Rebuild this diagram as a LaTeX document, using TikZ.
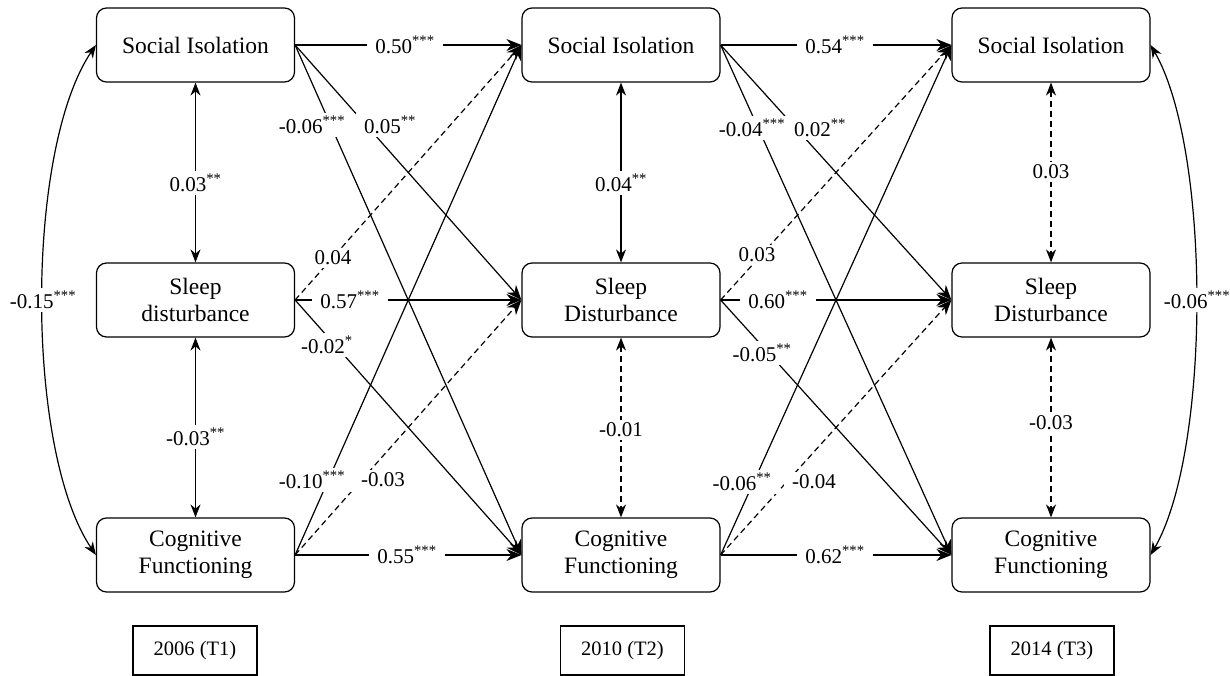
\documentclass[tikz,border=0pt]{standalone}
\usepackage{fontspec}
\setmainfont{Liberation Serif}
\usetikzlibrary{arrows.meta}
\begin{document}
\begin{tikzpicture}[x=1pt,y=-1pt,
  var/.style={draw, rounded corners=10pt, minimum width=198pt, minimum height=74pt, align=center, font=\fontsize{23.5}{27}\selectfont, line width=1.2pt, inner sep=0pt},
  yr/.style={draw, minimum width=124pt, minimum height=49pt, font=\fontsize{20.5}{24}\selectfont, line width=1.2pt},
  lab/.style={fill=white, font=\fontsize{21}{24}\selectfont, inner xsep=8pt, inner ysep=3pt},
  arr/.style={line width=1.2pt, -{Stealth[length=15pt,width=12pt]}},
  dbl/.style={line width=1.2pt, {Stealth[length=13pt,width=10pt]}-{Stealth[length=13pt,width=10pt]}},
  ns/.style={dash pattern=on 6pt off 4pt}
]
\useasboundingbox (0,0) rectangle (1230,676);
% variables
\node[var] (SI1) at (195.5,45) {Social Isolation};
\node[var] (SL1) at (195.5,300) {Sleep\\disturbance};
\node[var] (CF1) at (195.5,555) {Cognitive\\Functioning};
\node[var] (SI2) at (621,45) {Social Isolation};
\node[var] (SL2) at (621,300) {Sleep\\Disturbance};
\node[var] (CF2) at (621,555) {Cognitive\\Functioning};
\node[var] (SI3) at (1051,45) {Social Isolation};
\node[var] (SL3) at (1051,300) {Sleep\\Disturbance};
\node[var] (CF3) at (1051,555) {Cognitive\\Functioning};
% years
\node[yr] (Y1) at (195,650.5) {2006 (T1)};
\node[yr] (Y2) at (622.5,650.5) {2010 (T2)};
\node[yr] (Y3) at (1052,650.5) {2014 (T3)};
% T1 -> T2
\draw[arr] (SI1.east) -- (SI2.west);
\draw[arr] (SI1.east) -- (SL2.west);
\draw[arr] (SI1.east) -- (CF2.west);
\draw[arr,ns] (SL1.east) -- (SI2.west);
\draw[arr] (SL1.east) -- (SL2.west);
\draw[arr] (SL1.east) -- (CF2.west);
\draw[arr] (CF1.east) -- (SI2.west);
\draw[arr,ns] (CF1.east) -- (SL2.west);
\draw[arr] (CF1.east) -- (CF2.west);
% T2 -> T3
\draw[arr] (SI2.east) -- (SI3.west);
\draw[arr] (SI2.east) -- (SL3.west);
\draw[arr] (SI2.east) -- (CF3.west);
\draw[arr,ns] (SL2.east) -- (SI3.west);
\draw[arr] (SL2.east) -- (SL3.west);
\draw[arr] (SL2.east) -- (CF3.west);
\draw[arr] (CF2.east) -- (SI3.west);
\draw[arr,ns] (CF2.east) -- (SL3.west);
\draw[arr] (CF2.east) -- (CF3.west);
% within-wave covariances
\draw[dbl] (SI1.south) -- (SL1.north);
\draw[dbl] (SL1.south) -- (CF1.north);
\draw[dbl] (SI2.south) -- (SL2.north);
\draw[dbl,ns] (SL2.south) -- (CF2.north);
\draw[dbl,ns] (SI3.south) -- (SL3.north);
\draw[dbl,ns] (SL3.south) -- (CF3.north);
\draw[dbl] (SI1.west) .. controls (25,150) and (25,450) .. (CF1.west);
\draw[dbl] (SI3.east) .. controls (1211,150) and (1211,450) .. (CF3.east);
% labels T1 -> T2
\node[lab] (a1) at (405,45) {0.50\textsuperscript{***}};
\node[lab] (a2) at (312,125) {-0.06\textsuperscript{***}};
\node[lab] (a3) at (390,125) {0.05\textsuperscript{**}};
\node[lab] (a4) at (333,258) {0.04};
\node[lab] (a5) at (350,300) {0.57\textsuperscript{***}};
\node[lab] (a6) at (327,345) {-0.02\textsuperscript{*}};
\node[lab] (a7) at (312,480) {-0.10\textsuperscript{***}};
\node[lab] (a8) at (383,480) {-0.03};
\node[lab] (a9) at (407,555) {0.55\textsuperscript{***}};
% labels T2 -> T3
\node[lab] (b1) at (835,45) {0.54\textsuperscript{***}};
\node[lab] (b2) at (752,128) {-0.04\textsuperscript{***}};
\node[lab] (b3) at (820,128) {0.02\textsuperscript{**}};
\node[lab] (b4) at (757,255) {0.03};
\node[lab] (b5) at (778,300) {0.60\textsuperscript{***}};
\node[lab] (b6) at (762,353) {-0.05\textsuperscript{**}};
\node[lab] (b7) at (742,482) {-0.06\textsuperscript{**}};
\node[lab] (b8) at (814,482) {-0.04};
\node[lab] (b9) at (835,555) {0.62\textsuperscript{***}};
% covariance labels
\node[lab] (c1) at (195.5,183) {0.03\textsuperscript{**}};
\node[lab] (c2) at (195.5,437) {-0.03\textsuperscript{**}};
\node[lab] (c3) at (621,183) {0.04\textsuperscript{**}};
\node[lab] (c4) at (621,430) {-0.01};
\node[lab] (c5) at (1051,172) {0.03};
\node[lab] (c6) at (1051,423) {-0.03};
\node[lab,inner xsep=2pt] (c7) at (43,300) {-0.15\textsuperscript{***}};
\node[lab,inner xsep=2pt] (c8) at (1197,300) {-0.06\textsuperscript{***}};
\end{tikzpicture}
\end{document}
